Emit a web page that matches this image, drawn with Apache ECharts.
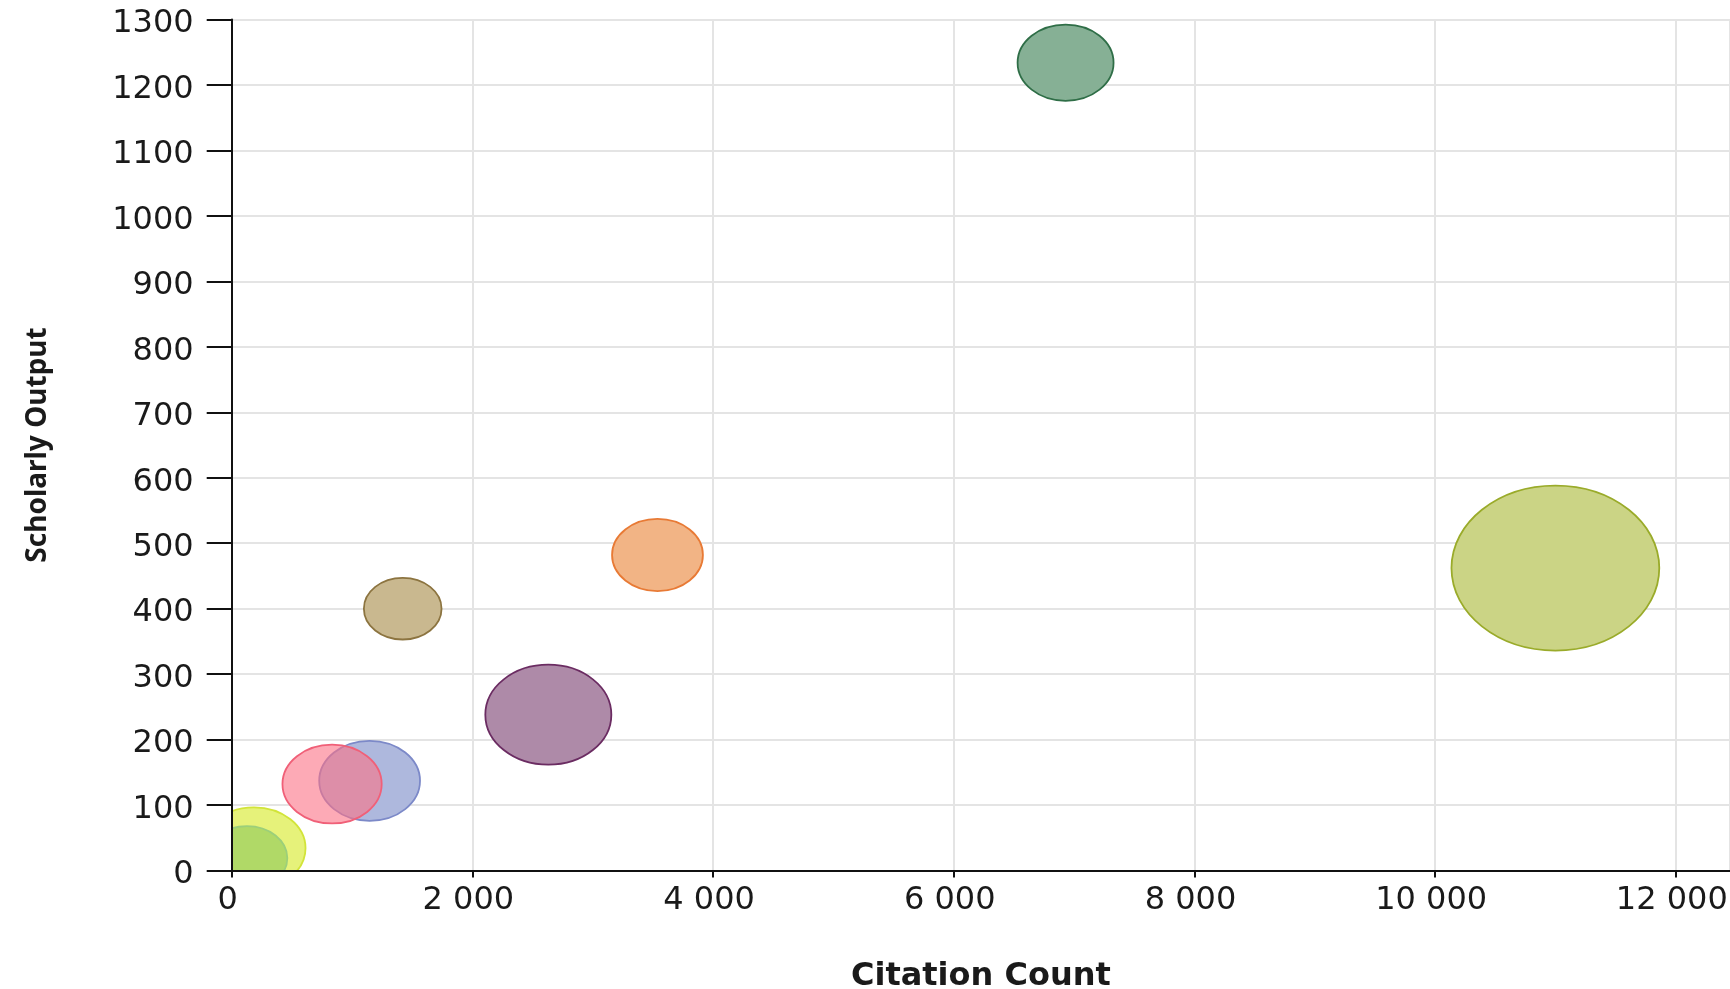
<!DOCTYPE html>
<html>
<head>
<meta charset="utf-8">
<script src="https://cdn.jsdelivr.net/npm/echarts@6/dist/echarts.min.js"></script>
<style>
html,body{margin:0;padding:0;background:#fff;}
#chart{width:1730px;height:989px;}
</style>
</head>
<body>
<div id="chart"></div>
<script>
// ---- data ----
const entityNames = ['Entity A','Entity B','Entity C','Entity D','Entity E','Entity F','Entity G','Entity H','Entity I'];
const citationCount = [6929, 10999, 3538, 1421, 2631, 1146, 834, 185, 127];
const scholarlyOutput = [1234, 462, 482, 400, 238, 137, 132, 34, 19];
const bubbleValue = [58, 272, 52, 38, 100, 64, 62, 67, 41];
const xTickLabels = ['0', '2 000', '4 000', '6 000', '8 000', '10 000', '12 000'];
const yTickLabels = ['0','100','200','300','400','500','600','700','800','900','1000','1100','1200','1300'];

// ---- styles ----
const fills = [
  'rgba(53,123,78,0.6)', 'rgba(168,183,52,0.6)', 'rgba(233,130,52,0.6)', 'rgba(165,137,68,0.6)',
  'rgba(120,60,110,0.6)', 'rgba(120,137,198,0.6)', 'rgba(252,113,133,0.6)', 'rgba(213,233,33,0.6)',
  'rgba(140,200,90,0.6)'
];
const strokes = ['#2f6e47','#9aab2a','#e87a35','#8c7440','#6b2c62','#7c89c8','#f06078','#d2e43a','#9ccf7a'];
const SIZE_K = 10;      // px per sqrt(value)
const ASPECT = 1.26;    // horizontal stretch of bubbles

const seriesData = citationCount.map((x, i) => ({
  name: entityNames[i],
  value: [x, scholarlyOutput[i], bubbleValue[i]]
}));

function bubbleRenderer(colored) {
  return function (params, api) {
    const p = api.coord([api.value(0), api.value(1)]);
    const d = Math.sqrt(api.value(2)) * SIZE_K;
    const i = params.dataIndex;
    return {
      type: 'ellipse',
      shape: {cx: p[0], cy: p[1], rx: d * ASPECT / 2, ry: d / 2},
      style: colored
        ? {fill: fills[i], stroke: strokes[i], lineWidth: 1.8}
        : {fill: '#ffffff', stroke: null}
    };
  };
}

const labelFont = {fontFamily: 'DejaVu Sans', fontSize: 32, color: '#1a1a1a'};
const X_MIN = 0, X_MAX = 12450, X_STEP = 2000;
const Y_MIN = 0, Y_MAX = 1300, Y_STEP = 100;
const gridLine = {show: true, lineStyle: {color: '#e4e4e4', width: 2}};

const chart = echarts.init(document.getElementById('chart'), null, {renderer: 'canvas'});
chart.setOption({
  animation: false,
  backgroundColor: '#ffffff',
  grid: {left: 231.7, right: 0, top: 19.5, bottom: 118.5, containLabel: false, outerBoundsMode: 'none'},
  xAxis: [{
    // grid lines only (below bubbles)
    type: 'value', min: X_MIN, max: X_MAX, interval: X_STEP, z: 0,
    axisLine: {show: false}, axisTick: {show: false}, axisLabel: {show: false},
    splitLine: gridLine
  }, {
    // axis line, ticks, labels (above bubbles)
    type: 'value', min: X_MIN, max: X_MAX, interval: X_STEP, z: 10, position: 'bottom',
    name: 'Citation Count', nameLocation: 'middle', nameGap: 90,
    nameTextStyle: {fontFamily: 'DejaVu Sans', fontWeight: 'bold', fontSize: 32, color: '#1a1a1a'},
    axisLine: {show: true, onZero: false, lineStyle: {color: '#111', width: 2}},
    axisTick: {show: true, length: 7, lineStyle: {color: '#111', width: 2}},
    axisLabel: Object.assign({
      margin: 14, showMaxLabel: false, padding: [0, 8, 0, 0],
      formatter: v => { const idx = v / X_STEP; return Number.isInteger(idx) && xTickLabels[idx] !== undefined ? xTickLabels[idx] : ''; }
    }, labelFont),
    splitLine: {show: false}
  }],
  yAxis: [{
    type: 'value', min: Y_MIN, max: Y_MAX, interval: Y_STEP, z: 0,
    axisLine: {show: false}, axisTick: {show: false}, axisLabel: {show: false},
    splitLine: gridLine
  }, {
    type: 'value', min: Y_MIN, max: Y_MAX, interval: Y_STEP, z: 10, position: 'left',
    name: 'Scholarly Output', nameLocation: 'middle', nameGap: 180, nameRotate: 90,
    nameTextStyle: {fontFamily: 'Noto Sans', fontWeight: 'bold', fontSize: 28, color: '#1a1a1a'},
    axisLine: {show: true, onZero: false, lineStyle: {color: '#111', width: 2}},
    axisTick: {show: true, length: 25, lineStyle: {color: '#111', width: 2}},
    axisLabel: Object.assign({
      margin: 38,
      rich: {t: {fontFamily: 'DejaVu Sans', fontSize: 32, color: '#1a1a1a', padding: [9, 0, 0, 0]}},
      formatter: v => { const idx = v / Y_STEP; return yTickLabels[idx] !== undefined ? '{t|' + yTickLabels[idx] + '}' : ''; }
    }, labelFont),
    splitLine: {show: false}
  }],
  series: [{
    type: 'custom', name: 'backdrop', clip: true, silent: true,
    xAxisIndex: 0, yAxisIndex: 0,
    data: seriesData, encode: {x: 0, y: 1},
    renderItem: bubbleRenderer(false)
  }, {
    type: 'custom', name: 'bubbles', clip: true,
    xAxisIndex: 0, yAxisIndex: 0,
    data: seriesData, encode: {x: 0, y: 1},
    renderItem: bubbleRenderer(true)
  }]
});
</script>
</body>
</html>
